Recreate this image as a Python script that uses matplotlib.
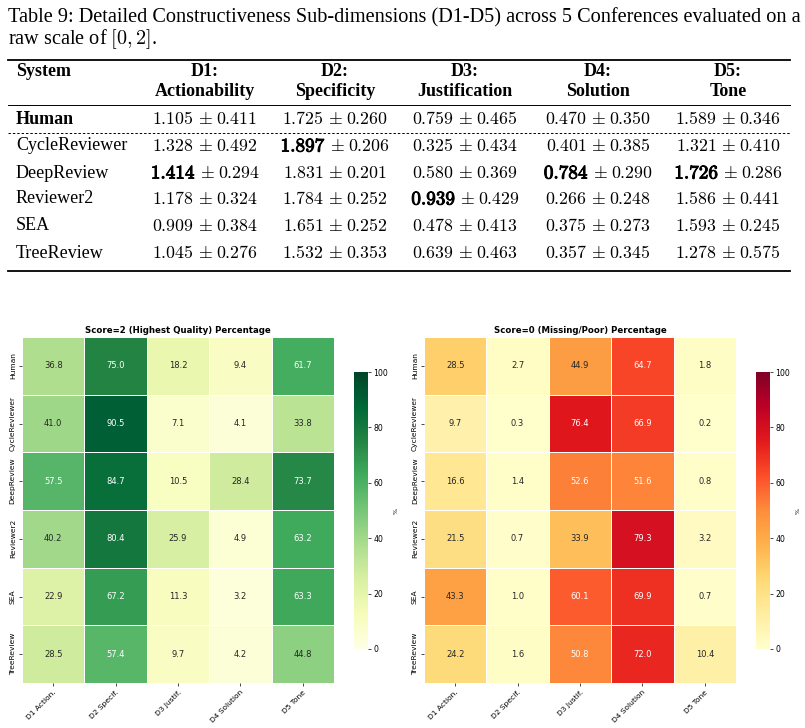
import matplotlib
matplotlib.use("Agg")
import matplotlib.pyplot as plt
import matplotlib.patheffects as pe
import seaborn as sns
import numpy as np
from matplotlib.lines import Line2D

# ---------------- data ----------------
systems = ["Human", "CycleReviewer", "DeepReview", "Reviewer2", "SEA", "TreeReview"]
dim_codes = ["D1:", "D2:", "D3:", "D4:", "D5:"]
dim_names = ["Actionability", "Specificity", "Justification", "Solution", "Tone"]
dim_short = ["D1 Action.", "D2 Specif.", "D3 Justif.", "D4 Solution", "D5 Tone"]

table_means = [
    [1.105, 1.725, 0.759, 0.470, 1.589],
    [1.328, 1.897, 0.325, 0.401, 1.321],
    [1.414, 1.831, 0.580, 0.784, 1.726],
    [1.178, 1.784, 0.939, 0.266, 1.586],
    [0.909, 1.651, 0.478, 0.375, 1.593],
    [1.045, 1.532, 0.639, 0.357, 1.278],
]
table_stds = [
    [0.411, 0.260, 0.465, 0.350, 0.346],
    [0.492, 0.206, 0.434, 0.385, 0.410],
    [0.294, 0.201, 0.369, 0.290, 0.286],
    [0.324, 0.252, 0.429, 0.248, 0.441],
    [0.384, 0.252, 0.413, 0.273, 0.245],
    [0.276, 0.353, 0.463, 0.345, 0.575],
]

score2_pct = [
    [36.8, 75.0, 18.2, 9.4, 61.7],
    [41.0, 90.5, 7.1, 4.1, 33.8],
    [57.5, 84.7, 10.5, 28.4, 73.7],
    [40.2, 80.4, 25.9, 4.9, 63.2],
    [22.9, 67.2, 11.3, 3.2, 63.3],
    [28.5, 57.4, 9.7, 4.2, 44.8],
]
score0_pct = [
    [28.5, 2.7, 44.9, 64.7, 1.8],
    [9.7, 0.3, 76.4, 66.9, 0.2],
    [16.6, 1.4, 52.6, 51.6, 0.8],
    [21.5, 0.7, 33.9, 79.3, 3.2],
    [43.3, 1.0, 60.1, 69.9, 0.7],
    [24.2, 1.6, 50.8, 72.0, 10.4],
]

caption_line1 = "Table 9: Detailed Constructiveness Sub-dimensions (D1-D5) across 5 Conferences evaluated on a"
caption_line2 = "raw scale of $[0,2]$."
title_left = "Score=2 (Highest Quality) Percentage"
title_right = "Score=0 (Missing/Poor) Percentage"

# ---------------- figure ----------------
W, H = 805, 728
plt.rcParams["mathtext.fontset"] = "cm"
fig = plt.figure(figsize=(W / 100, H / 100), dpi=100)


def fx(x):
    return x / W


def fy(y):
    return 1 - y / H


SERIF = "Liberation Serif"

# caption
fig.text(fx(8), fy(18), caption_line1, ha="left", va="center", fontfamily=SERIF, fontsize=14.6)
fig.text(fx(8), fy(39), caption_line2, ha="left", va="center", fontfamily=SERIF, fontsize=14.6)

# rules
def hline(y, lw, ls="-"):
    fig.add_artist(Line2D([fx(8), fx(790)], [fy(y), fy(y)], color="black", lw=lw, ls=ls,
                          transform=fig.transFigure))

hline(60, 1.3)
hline(105, 0.7)
hline(133, 0.7, ls=(0, (2.5, 2)))
hline(271, 1.3)

col_x = [205, 335, 465, 598, 728]
TS = 13.0
NS = 12.8

fig.text(fx(16), fy(72), "System", ha="left", va="center", fontfamily=SERIF,
         fontweight="bold", fontsize=TS)
for cx, code, name in zip(col_x, dim_codes, dim_names):
    fig.text(fx(cx), fy(72), code, ha="center", va="center", fontfamily=SERIF,
             fontweight="bold", fontsize=TS)
    fig.text(fx(cx), fy(91), name, ha="center", va="center", fontfamily=SERIF,
             fontweight="bold", fontsize=TS)

row_y = [119, 146, 173, 199, 226, 253]
means = np.array(table_means)
best = means[1:].argmax(axis=0) + 1
bold_fx = [pe.withStroke(linewidth=0.7, foreground="black")]
for i, (sysname, ry) in enumerate(zip(systems, row_y)):
    fig.text(fx(16), fy(ry), sysname, ha="left", va="center", fontfamily=SERIF,
             fontweight="bold" if i == 0 else "normal", fontsize=TS)
    for j, cx in enumerate(col_x):
        m = table_means[i][j]
        s = table_stds[i][j]
        isbest = best[j] == i
        shift = 2 if isbest else 0
        fig.text(fx(cx + shift), fy(ry), r"$\pm$", ha="center", va="center", fontsize=NS)
        fig.text(fx(cx + shift + 11), fy(ry), r"$%.3f$" % s, ha="left", va="center", fontsize=NS)
        if isbest:
            fig.text(fx(cx + shift - 11), fy(ry), r"$\mathbf{%.3f}$" % m, ha="right",
                     va="center", fontsize=NS + 1.0, path_effects=bold_fx)
        else:
            fig.text(fx(cx - 11), fy(ry), r"$%.3f$" % m, ha="right", va="center", fontsize=NS)

# ---------------- heatmaps ----------------
def axes_px(x0, y0, x1, y1):
    return fig.add_axes([fx(x0), fy(y1), (x1 - x0) / W, (y1 - y0) / H])

ax1 = axes_px(22, 337, 334, 683)
cax1 = axes_px(354, 372, 368, 649)
ax2 = axes_px(424, 337, 736, 683)
cax2 = axes_px(756, 372, 770, 649)

for ax, cax, data, cmap, title in [
    (ax1, cax1, score2_pct, "YlGn", title_left),
    (ax2, cax2, score0_pct, "YlOrRd", title_right),
]:
    sns.heatmap(np.array(data), ax=ax, cbar_ax=cax, cmap=cmap, vmin=0, vmax=100,
                annot=True, fmt=".1f", annot_kws={"fontsize": 6},
                linewidths=0.5, linecolor="white",
                xticklabels=dim_short, yticklabels=systems,
                cbar_kws={"label": "%"})
    ax.set_title(title, fontsize=6.2, fontweight="bold", pad=3)
    ax.set_xticklabels(dim_short, rotation=45, ha="right", fontsize=5.4,
                       rotation_mode="anchor")
    ax.set_yticklabels(systems, rotation=90, va="center", fontsize=5.4)
    ax.tick_params(axis="both", length=2.5, width=0.5, pad=2)
    cax.tick_params(labelsize=5.6, length=2.5, width=0.5, pad=1.5)
    cax.yaxis.label.set_size(4.5)

fig.savefig("out.png", dpi=100)
